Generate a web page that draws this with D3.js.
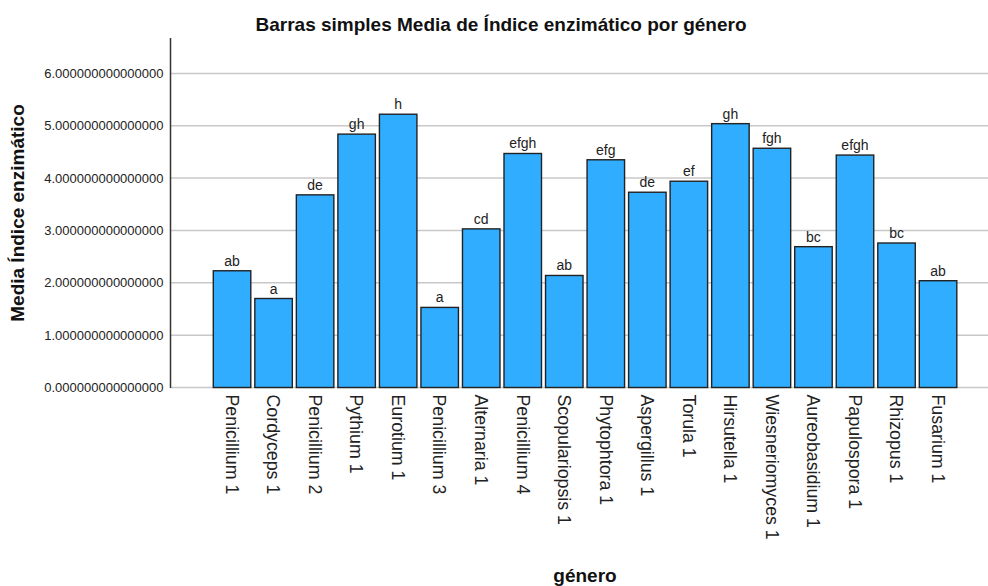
<!DOCTYPE html>
<html>
<head>
<meta charset="utf-8">
<script src="https://cdn.jsdelivr.net/npm/d3@7"></script>
<style>
  body { margin: 0; background: #fff; }
  svg { display: block; font-family: "Liberation Sans", Arial, sans-serif; }
</style>
</head>
<body>
<svg id="chart" width="988" height="586"></svg>
<script>
const categories = ["Penicillium 1","Cordyceps 1","Penicillium 2","Pythium 1","Eurotium 1","Penicillium 3","Alternaria 1","Penicillium 4","Scopulariopsis 1","Phytophtora 1","Aspergillus 1","Torula 1","Hirsutella 1","Wiesneriomyces 1","Aureobasidium 1","Papulospora 1","Rhizopus 1","Fusarium 1"];
const values = [2.23,1.70,3.68,4.84,5.22,1.53,3.03,4.47,2.14,4.35,3.73,3.94,5.04,4.57,2.69,4.44,2.76,2.04];
const letters = ["ab","a","de","gh","h","a","cd","efgh","ab","efg","de","ef","gh","fgh","bc","efgh","bc","ab"];
const yTicks = [0,1,2,3,4,5,6];
const yTickLabels = yTicks.map(v => v.toFixed(15));

const svg = d3.select("#chart");
const axisX = 170.5, yTop = 38, yZero = 387.5, rightEdge = 988;

const y = d3.scaleLinear().domain([0, 6]).range([yZero, yZero - 6 * 52.35]);
const x = d3.scaleBand().domain(categories).range([211.3, 958.8]).paddingInner(0.097).paddingOuter(0.048);

// gridlines
svg.append("g").selectAll("line").data(yTicks).join("line")
  .attr("x1", axisX).attr("x2", rightEdge)
  .attr("y1", d => y(d)).attr("y2", d => y(d))
  .attr("stroke", "#c8c8c8").attr("stroke-width", 1.5);

// y tick labels
svg.append("g").selectAll("text").data(yTicks).join("text")
  .attr("x", 163.5).attr("y", d => y(d)).attr("dy", "0.35em")
  .attr("text-anchor", "end").attr("font-size", 13).attr("fill", "#222")
  .text((d, i) => yTickLabels[i]);

// bars
svg.append("g").selectAll("rect").data(categories).join("rect")
  .attr("x", d => x(d)).attr("width", x.bandwidth())
  .attr("y", (d, i) => y(values[i])).attr("height", (d, i) => y(0) - y(values[i]))
  .attr("fill", "#31adff").attr("stroke", "#222").attr("stroke-width", 1.4);

// bar letters
svg.append("g").selectAll("text").data(categories).join("text")
  .attr("x", d => x(d) + x.bandwidth() / 2).attr("y", (d, i) => y(values[i]) - 5)
  .attr("text-anchor", "middle").attr("font-size", 14).attr("fill", "#222")
  .text((d, i) => letters[i]);

// y axis line
svg.append("line").attr("x1", axisX).attr("x2", axisX).attr("y1", yTop).attr("y2", yZero + 0.5)
  .attr("stroke", "#333").attr("stroke-width", 1.5);

// x category labels rotated
svg.append("g").selectAll("text").data(categories).join("text")
  .attr("transform", d => `translate(${x(d) + x.bandwidth() / 2},${yZero + 7}) rotate(90)`)
  .attr("dy", "0.35em").attr("text-anchor", "start")
  .attr("font-size", 17.8).attr("fill", "#222")
  .text(d => d);

// title
svg.append("text").attr("x", 501).attr("y", 31).attr("text-anchor", "middle")
  .attr("font-size", 19).attr("font-weight", "bold").attr("fill", "#111")
  .text("Barras simples Media de Índice enzimático por género");

// y title
svg.append("text").attr("transform", `translate(24,213) rotate(-90)`)
  .attr("text-anchor", "middle").attr("font-size", 19).attr("font-weight", "bold").attr("fill", "#111")
  .text("Media Índice enzimático");

// x title
svg.append("text").attr("x", 585).attr("y", 582).attr("text-anchor", "middle")
  .attr("font-size", 19).attr("font-weight", "bold").attr("fill", "#111")
  .text("género");
</script>
</body>
</html>
